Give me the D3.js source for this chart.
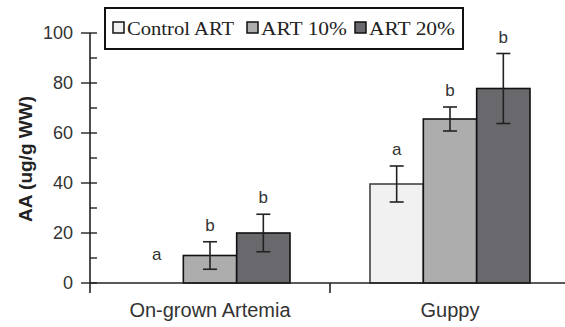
<!DOCTYPE html>
<html>
<head>
<meta charset="utf-8">
<script src="https://cdn.jsdelivr.net/npm/d3@7"></script>
<style>
  body { margin: 0; background: #fff; }
  svg { display: block; }
</style>
</head>
<body>
<svg id="chart" width="565" height="327"></svg>
<script>
/* eslint-env browser */
/* global d3: false */

// data
const groups = ['On-grown Artemia', 'Guppy'];
const series = ['Control ART', 'ART 10%', 'ART 20%'];
const colors = ['#f1f1f1', '#adadad', '#69696d'];
const artemiaValues = [0, 11, 20];
const artemiaErrors = [0, 5.5, 7.5];
const artemiaLetters = ['a', 'b', 'b'];
const guppyValues = [39.6, 65.6, 77.8];
const guppyErrors = [7.2, 4.8, 14];
const guppyLetters = ['a', 'b', 'b'];
const yTicks = [0, 20, 40, 60, 80, 100];
const yMinorTicks = [10, 30, 50, 70, 90];

const rows = [
  { group: groups[0], values: artemiaValues, errors: artemiaErrors, letters: artemiaLetters },
  { group: groups[1], values: guppyValues, errors: guppyErrors, letters: guppyLetters },
];

const svg = d3.select('#chart');
const plotLeft = 90;
const plotRight = 570;
const plotTop = 33;
const plotBottom = 283;
const sans = 'Liberation Sans, Arial, sans-serif';

const x0 = d3.scaleBand().domain(groups).range([plotLeft, plotRight])
  .paddingInner(1 / 3).paddingOuter(1 / 6);
const x1 = d3.scaleBand().domain(series).range([0, x0.bandwidth()]);
const y = d3.scaleLinear().domain([0, 100]).range([plotBottom, plotTop]);

// bars
const bars = [];
rows.forEach((r) => {
  series.forEach((s, i) => {
    bars.push({ group: r.group, s, i, v: r.values[i], e: r.errors[i], letter: r.letters[i] });
  });
});

svg.append('g')
  .selectAll('rect')
  .data(bars.filter(d => d.v > 0))
  .enter()
  .append('rect')
  .attr('x', d => x0(d.group) + x1(d.s))
  .attr('y', d => y(d.v))
  .attr('width', x1.bandwidth())
  .attr('height', d => y(0) - y(d.v))
  .attr('fill', d => colors[d.i])
  .attr('stroke', d => (d.i === 0 ? '#444' : '#111'))
  .attr('stroke-width', 1.6);

// error bars
const err = svg.append('g').attr('stroke', '#222').attr('stroke-width', 1.6);
bars.filter(d => d.e > 0).forEach((d) => {
  const cx = x0(d.group) + x1(d.s) + x1.bandwidth() / 2;
  err.append('line').attr('x1', cx).attr('x2', cx)
    .attr('y1', y(d.v + d.e)).attr('y2', y(d.v - d.e));
  err.append('line').attr('x1', cx - 7).attr('x2', cx + 7)
    .attr('y1', y(d.v + d.e)).attr('y2', y(d.v + d.e));
  err.append('line').attr('x1', cx - 7).attr('x2', cx + 7)
    .attr('y1', y(d.v - d.e)).attr('y2', y(d.v - d.e));
});

// significance letters
svg.append('g')
  .selectAll('text')
  .data(bars)
  .enter()
  .append('text')
  .attr('x', d => x0(d.group) + x1(d.s) + x1.bandwidth() / 2)
  .attr('y', d => y(d.v + d.e) - (d.v > 0 ? 11 : 23))
  .attr('text-anchor', 'middle')
  .attr('font-family', sans)
  .attr('font-size', 17)
  .attr('fill', '#333')
  .text(d => d.letter);

// y axis
const yAxis = svg.append('g').attr('transform', `translate(${plotLeft},0)`);
yAxis.append('line').attr('x1', 0).attr('x2', 0)
  .attr('y1', y(100)).attr('y2', plotBottom + 10)
  .attr('stroke', '#222').attr('stroke-width', 1.6);
yAxis.selectAll('.major')
  .data(yTicks)
  .enter()
  .append('line')
  .attr('x1', -9).attr('x2', 7)
  .attr('y1', d => y(d)).attr('y2', d => y(d))
  .attr('stroke', '#222').attr('stroke-width', 1.4);
yAxis.selectAll('.minor')
  .data(yMinorTicks)
  .enter()
  .append('line')
  .attr('x1', 0).attr('x2', 7)
  .attr('y1', d => y(d)).attr('y2', d => y(d))
  .attr('stroke', '#222').attr('stroke-width', 1.4);
yAxis.selectAll('text')
  .data(yTicks)
  .enter()
  .append('text')
  .attr('x', -17)
  .attr('y', d => y(d))
  .attr('dy', '0.36em')
  .attr('text-anchor', 'end')
  .attr('font-family', sans)
  .attr('font-size', 18)
  .attr('fill', '#333')
  .text(d => d);

svg.append('text')
  .attr('transform', `translate(32,${(plotTop + plotBottom) / 2 + 1}) rotate(-90)`)
  .attr('text-anchor', 'middle')
  .attr('font-family', sans)
  .attr('font-weight', 'bold')
  .attr('font-size', 19)
  .attr('fill', '#222')
  .text('AA (ug/g WW)');

// x axis
svg.append('line')
  .attr('x1', plotLeft).attr('x2', 565)
  .attr('y1', plotBottom).attr('y2', plotBottom)
  .attr('stroke', '#222').attr('stroke-width', 1.6);
svg.append('line')
  .attr('x1', x0(groups[1]) - x0.step() * x0.paddingInner() / 2)
  .attr('x2', x0(groups[1]) - x0.step() * x0.paddingInner() / 2)
  .attr('y1', plotBottom).attr('y2', plotBottom + 10)
  .attr('stroke', '#222').attr('stroke-width', 1.6);
svg.append('g')
  .selectAll('text')
  .data(groups)
  .enter()
  .append('text')
  .attr('x', d => x0(d) + x0.bandwidth() / 2)
  .attr('y', 317)
  .attr('text-anchor', 'middle')
  .attr('font-family', sans)
  .attr('font-size', 20)
  .attr('fill', '#333')
  .text(d => d);

// legend
const legend = svg.append('g');
legend.append('rect')
  .attr('x', 105).attr('y', 8).attr('width', 358).attr('height', 41)
  .attr('fill', '#fff').attr('stroke', '#111').attr('stroke-width', 2);
const legendX = [113, 247, 355];
const legendTextW = [107, 86, 86];
series.forEach((s, i) => {
  legend.append('rect')
    .attr('x', legendX[i]).attr('y', 22).attr('width', 11).attr('height', 11)
    .attr('fill', colors[i]).attr('stroke', '#111').attr('stroke-width', 1.5);
  legend.append('text')
    .attr('x', legendX[i] + 14).attr('y', 35)
    .attr('font-family', 'Liberation Serif, Times New Roman, serif')
    .attr('font-size', 19)
    .attr('textLength', legendTextW[i])
    .attr('lengthAdjust', 'spacingAndGlyphs')
    .attr('fill', '#222')
    .text(s);
});
</script>
</body>
</html>
